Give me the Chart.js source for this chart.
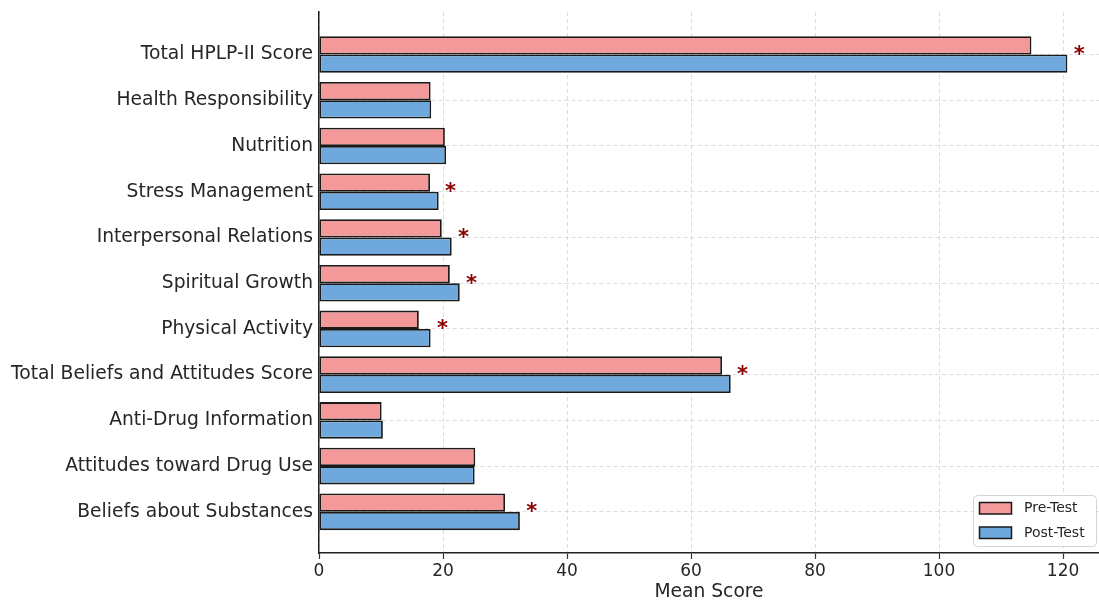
<!DOCTYPE html>
<html><head><meta charset="utf-8">
<script src="https://cdn.jsdelivr.net/npm/chart.js@4.4.0/dist/chart.umd.min.js"></script>
<style>html,body{margin:0;padding:0;background:#fff;overflow:hidden}#wrap{width:1099px;height:603px}</style>
</head><body><div id="wrap"><canvas id="c" width="1099" height="603"></canvas></div>
<script>
const categories = ["Total HPLP-II Score","Health Responsibility","Nutrition","Stress Management","Interpersonal Relations","Spiritual Growth","Physical Activity","Total Beliefs and Attitudes Score","Anti-Drug Information","Attitudes toward Drug Use","Beliefs about Substances"];
const preTest  = [114.9, 18.0, 20.3, 17.9, 19.8, 21.1, 16.1, 65.0, 10.1, 25.2, 30.0];
const postTest = [120.7, 18.1, 20.5, 19.3, 21.4, 22.7, 18.0, 66.4, 10.3, 25.1, 32.4];
const significant = [true, false, false, true, true, true, true, true, false, false, true];
const xTicks = [0, 20, 40, 60, 80, 100, 120];
const seriesNames = ["Pre-Test", "Post-Test"];

const FONT = "'DejaVu Sans', sans-serif";
const TEXT = "#262626";
const PRE_COLOR = "rgb(243,153,153)";
const POST_COLOR = "rgb(111,168,220)";
const EDGE = "#1a1a1a";

const starPlugin = {
  id: 'stars',
  afterDatasetsDraw(chart) {
    const ctx = chart.ctx, xs = chart.scales.x, ys = chart.scales.y;
    ctx.save();
    ctx.fillStyle = "#8b0000";
    ctx.font = "bold 21px " + FONT;
    ctx.textAlign = "center";
    ctx.textBaseline = "middle";
    categories.forEach((c, i) => {
      if (!significant[i]) return;
      const v = Math.max(preTest[i], postTest[i]) + 1.9;
      ctx.fillText("*", xs.getPixelForValue(v), ys.getPixelForValue(i) + 1);
    });
    ctx.restore();
  }
};

const legendPlugin = {
  id: 'boxLegend',
  afterDraw(chart) {
    const ctx = chart.ctx;
    const bx = 973.5, by = 495.5, bw = 123, bh = 51, r = 4;
    ctx.save();
    ctx.beginPath();
    ctx.moveTo(bx + r, by);
    ctx.arcTo(bx + bw, by, bx + bw, by + bh, r);
    ctx.arcTo(bx + bw, by + bh, bx, by + bh, r);
    ctx.arcTo(bx, by + bh, bx, by, r);
    ctx.arcTo(bx, by, bx + bw, by, r);
    ctx.closePath();
    ctx.fillStyle = "rgba(255,255,255,0.85)";
    ctx.fill();
    ctx.strokeStyle = "#d4d4d4";
    ctx.lineWidth = 1;
    ctx.stroke();
    const colors = [PRE_COLOR, POST_COLOR];
    const ys = [502.5, 527];
    ctx.font = "14px " + FONT;
    ctx.textBaseline = "middle";
    ctx.textAlign = "left";
    seriesNames.forEach((n, i) => {
      ctx.fillStyle = colors[i];
      ctx.fillRect(979.5, ys[i], 32, 11.5);
      ctx.strokeStyle = EDGE;
      ctx.lineWidth = 1.5;
      ctx.strokeRect(979.5, ys[i], 32, 11.5);
      ctx.fillStyle = TEXT;
      ctx.fillText(n, 1024, ys[i] + 6);
    });
    ctx.restore();
  }
};

new Chart(document.getElementById('c'), {
  type: 'bar',
  data: {
    datasets: [
      { label: seriesNames[0], data: categories.map((c, i) => ({ x: preTest[i], y: i })),
        backgroundColor: PRE_COLOR, borderColor: EDGE, borderWidth: 1.8, borderSkipped: false,
        categoryPercentage: 0.8, barPercentage: 1.0 },
      { label: seriesNames[1], data: categories.map((c, i) => ({ x: postTest[i], y: i })),
        backgroundColor: POST_COLOR, borderColor: EDGE, borderWidth: 1.8, borderSkipped: false,
        categoryPercentage: 0.8, barPercentage: 1.0 }
    ]
  },
  options: {
    indexAxis: 'y',
    responsive: false,
    animation: false,
    layout: { padding: { top: 12, left: 0, right: 0, bottom: 0 } },
    plugins: { legend: { display: false }, tooltip: { enabled: false } },
    scales: {
      x: {
        type: 'linear', min: 0, max: 125.8,
        afterBuildTicks: s => { s.ticks = xTicks.map(v => ({ value: v })); },
        afterFit: s => { s.height = 50; s.paddingLeft = 0; s.paddingRight = 0; },
        grid: { color: "#d3d3d3", lineWidth: 0.8, drawTicks: true, tickLength: 6, tickColor: "#333", tickWidth: 1.2 },
        border: { display: true, color: "#222", width: 1.5, dash: [4, 3] },
        ticks: { font: { family: FONT, size: 17 }, color: TEXT, padding: 2 },
        title: { display: true, text: "Mean Score", font: { family: FONT, size: 18.7 }, color: TEXT, padding: { top: 0, bottom: 0 } }
      },
      y: {
        type: 'linear', reverse: true, min: -0.93, max: 10.9, offset: false,
        afterBuildTicks: s => { s.ticks = categories.map((c, i) => ({ value: i })); },
        afterFit: s => { s.width = 319; s.paddingTop = 0; s.paddingBottom = 0; },
        grid: { color: "#d3d3d3", lineWidth: 0.8, drawTicks: false, offset: false },
        border: { display: true, color: "#222", width: 1.5, dash: [4, 3] },
        ticks: { autoSkip: false, font: { family: FONT, size: 18.7 }, color: TEXT, padding: 6,
                 callback: v => categories[v] }
      }
    }
  },
  plugins: [starPlugin, legendPlugin]
});
</script>
</body></html>
